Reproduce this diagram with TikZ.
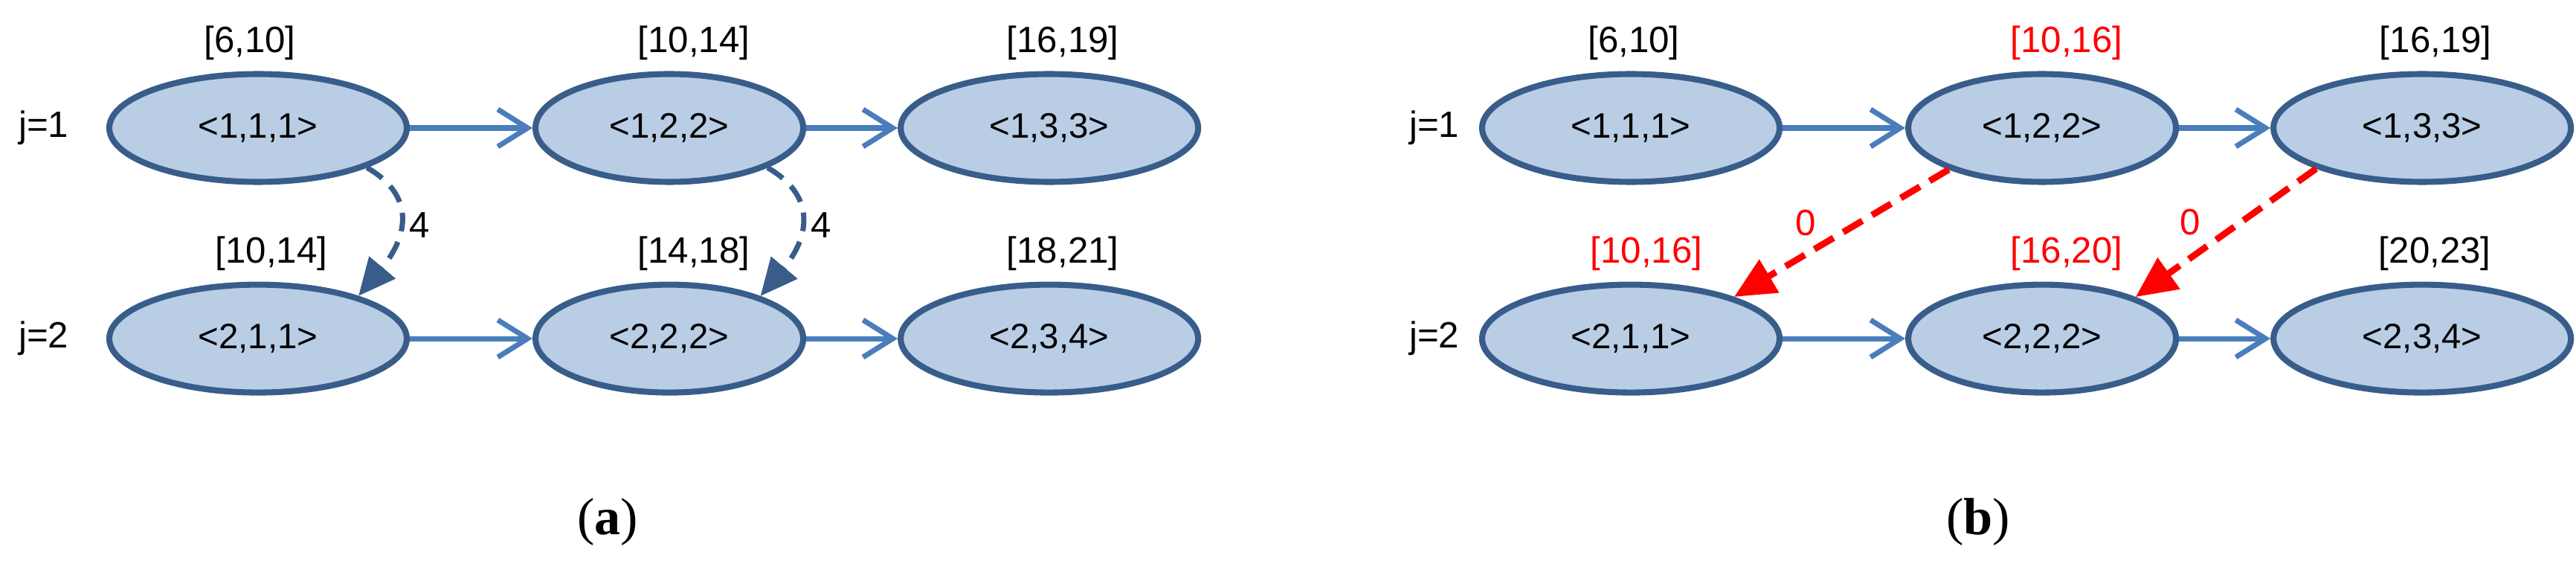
\documentclass[tikz,border=0pt]{standalone}
\usepackage{fontspec}
\setmainfont{Liberation Sans}
\newfontfamily\capfont{Liberation Serif}
\usetikzlibrary{arrows.meta, positioning, shapes.geometric}
\definecolor{ovalfill}{HTML}{B9CDE5}
\definecolor{ovaldraw}{HTML}{385D8A}
\definecolor{flowblue}{HTML}{4A7EBB}
\definecolor{hotred}{HTML}{FF0000}
\tikzset{
  oval/.style={ellipse, draw=ovaldraw, fill=ovalfill, line width=2.3pt,
    minimum width=4cm, minimum height=1.45cm, font=\fontsize{13.5}{16}\selectfont},
  slim/.style={oval, minimum width=3.6cm},
  lbl/.style={inner sep=0pt, font=\fontsize{14}{16}\selectfont},
  redlbl/.style={lbl, text=hotred},
  flow/.style={draw=flowblue, line width=2pt, -{Straight Barb[length=4mm, width=5mm]}},
  wait/.style={draw=ovaldraw, line width=2pt, dash pattern=on 2.5mm off 1.5mm,
    -{Triangle[length=5mm, width=4.5mm]}},
  cut/.style={draw=hotred, line width=2.5pt, dash pattern=on 3mm off 1.5mm,
    -{Triangle[length=5.5mm, width=5mm]}},
  caption/.style={font=\capfont\fontsize{20}{24}\selectfont}
}

\begin{document}
\begin{tikzpicture}
  \useasboundingbox (0,0) rectangle (34.64,-7.54);

  % (a) Nodes
  \node[oval] (a11) at (3.47,-1.72) {<1,1,1>};
  \node[slim, right=1.65cm of a11] (a12) {<1,2,2>};
  \node[oval, right=1.23cm of a12] (a13) {<1,3,3>};
  \node[oval, below=1.3cm of a11] (a21) {<2,1,1>};
  \node[slim, below=1.3cm of a12] (a22) {<2,2,2>};
  \node[oval, below=1.3cm of a13] (a23) {<2,3,4>};

  \node[lbl, left=0.5cm of a11] (ja1) {j=1};
  \node[lbl, left=0.5cm of a21] (ja2) {j=2};

  \node[lbl, above=0.14cm of a11, xshift=-1.1mm] (ta11) {[6,10]};
  \node[lbl, above=0.14cm of a12, xshift=3.3mm] (ta12) {[10,14]};
  \node[lbl, above=0.14cm of a13, xshift=1.8mm] (ta13) {[16,19]};
  \node[lbl, above=0.14cm of a21, xshift=1.8mm] (ta21) {[10,14]};
  \node[lbl, above=0.14cm of a22, xshift=3.3mm] (ta22) {[14,18]};
  \node[lbl, above=0.14cm of a23, xshift=1.8mm] (ta23) {[18,21]};

  % (a) Arrows
  \draw[flow] (a11) -- (a12);
  \draw[flow] (a12) -- (a13);
  \draw[flow] (a21) -- (a22);
  \draw[flow] (a22) -- (a23);
  \draw[wait] (a11.-20) to[out=-30, in=50, looseness=1.3]
    node[lbl, pos=.5, right=1mm] (wa1) {4} (a21.23);
  \draw[wait] (a12.-22) to[out=-30, in=50, looseness=1.3]
    node[lbl, pos=.5, right=1mm] (wa2) {4} (a22.25);

  \node[caption] (capa) at (8.17,-7.02) {(\textbf{a})};

  % (b) Nodes
  \node[oval] (b11) at (21.93,-1.72) {<1,1,1>};
  \node[slim, right=1.65cm of b11] (b12) {<1,2,2>};
  \node[oval, right=1.23cm of b12] (b13) {<1,3,3>};
  \node[oval, below=1.3cm of b11] (b21) {<2,1,1>};
  \node[slim, below=1.3cm of b12] (b22) {<2,2,2>};
  \node[oval, below=1.3cm of b13] (b23) {<2,3,4>};

  \node[lbl, left=0.26cm of b11] (jb1) {j=1};
  \node[lbl, left=0.26cm of b21] (jb2) {j=2};

  \node[lbl, above=0.14cm of b11, xshift=0.4mm] (tb11) {[6,10]};
  \node[redlbl, above=0.14cm of b12, xshift=3.3mm] (tb12) {[10,16]};
  \node[lbl, above=0.14cm of b13, xshift=1.8mm] (tb13) {[16,19]};
  \node[redlbl, above=0.14cm of b21, xshift=2.1mm] (tb21) {[10,16]};
  \node[redlbl, above=0.14cm of b22, xshift=3.3mm] (tb22) {[16,20]};
  \node[lbl, above=0.14cm of b23, xshift=1.7mm] (tb23) {[20,23]};

  % (b) Arrows
  \draw[flow] (b11) -- (b12);
  \draw[flow] (b12) -- (b13);
  \draw[flow] (b21) -- (b22);
  \draw[flow] (b22) -- (b23);
  \draw[cut] (b12.-156) -- node[redlbl, pos=.5, left=3mm, yshift=1.4mm] (zb1) {0} (b21.22);
  \draw[cut] (b13.-159) -- node[redlbl, pos=.5, left=3mm, yshift=1.4mm] (zb2) {0} (b22.24);

  \node[caption] (capb) at (26.60,-7.02) {(\textbf{b})};
\end{tikzpicture}
\end{document}
